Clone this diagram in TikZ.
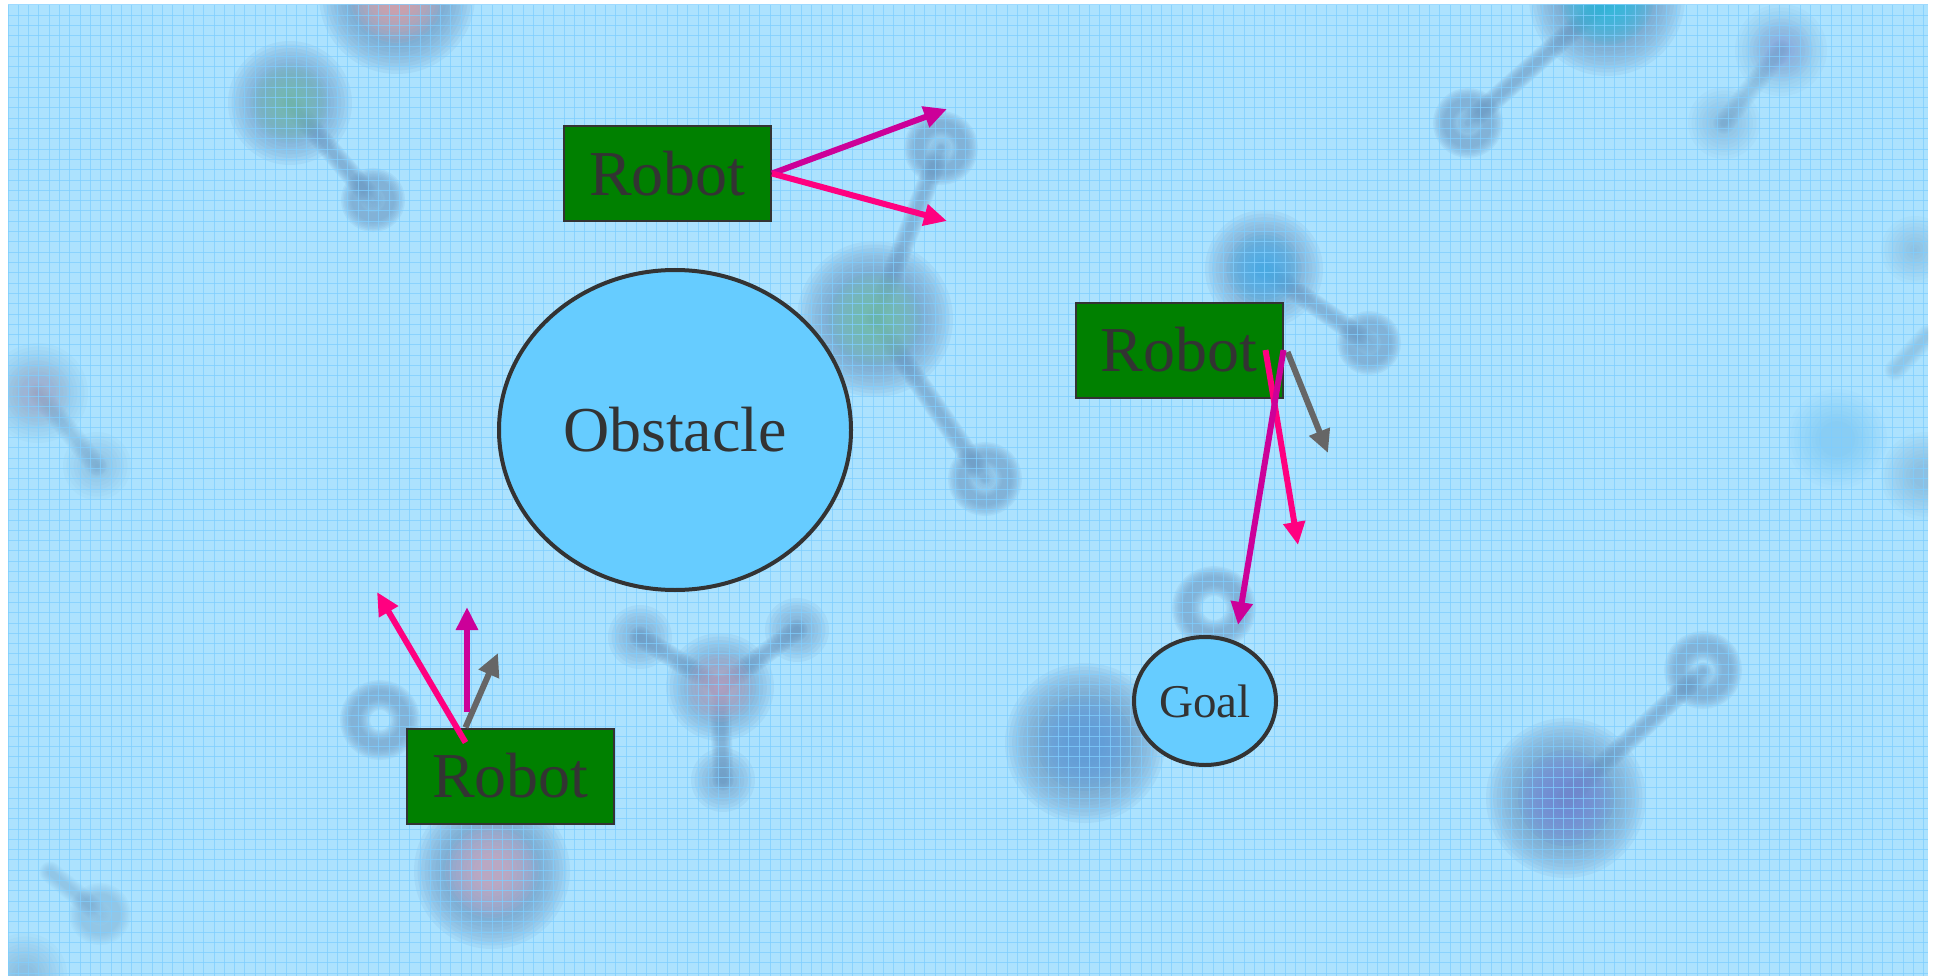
\documentclass[tikz,border=0pt]{standalone}
\usepackage{fontspec}
\setmainfont{Liberation Serif}
\usetikzlibrary{arrows.meta,calc,shapes.geometric}

\definecolor{paper}{HTML}{ACE2FE}
\definecolor{gridc}{HTML}{7FCEFF}
\definecolor{molshade}{HTML}{6A98C2}
\definecolor{lightblob}{HTML}{5FB8F0}
\definecolor{boxgreen}{HTML}{008000}
\definecolor{ink}{HTML}{333333}
\definecolor{skyfill}{HTML}{66CCFF}
\definecolor{hotpink}{HTML}{FF0080}
\definecolor{plum}{HTML}{CC0099}
\definecolor{steel}{HTML}{666666}

% soft-edged background shapes, built from stacked translucent layers
\def\lay{0.11}
\newcommand\haze[4]{% x, y, radius, colour
  \foreach \k in {0,...,9}{%
    \pgfmathsetmacro\rr{#3+16-32*\k/9}%
    \fill[#4,opacity=\lay] (#1,#2) circle[radius=\rr pt];
  }}
\newcommand\sphere[4]{% x, y, radius, centre colour (HTML)
  \haze{#1}{#2}{#3}{molshade}%
  \definecolor{tmpc}{HTML}{#4}%
  \haze{#1}{#2}{#3*0.5}{tmpc}}
\newcommand\hazering[3]{% x, y, radius
  \foreach \k in {0,...,7}{%
    \pgfmathsetmacro\ww{30-3*\k}%
    \draw[molshade,opacity=\lay,line width=\ww pt] (#1,#2) circle[radius=#3 pt];
  }}
\newcommand\hazebond[4]{% x1, y1, x2, y2
  \foreach \k in {0,...,7}{%
    \pgfmathsetmacro\ww{21-2.2*\k}%
    \draw[molshade,opacity=\lay,line width=\ww pt,line cap=round] (#1,#2) -- (#3,#4);
  }}

\tikzset{
  robot/.style={draw=ink,line width=2pt,fill=boxgreen,rectangle,
    minimum width=207pt,minimum height=95pt,inner sep=0pt,
    text=ink,font=\fontsize{64}{70}\selectfont},
  blob/.style={draw=ink,line width=4pt,fill=skyfill,ellipse,inner sep=0pt,text=ink},
  vec/.style={line width=6pt,-{Triangle[length=23pt,width=21pt]}},
}

\begin{document}
\begin{tikzpicture}[x=1pt,y=-1pt]
\useasboundingbox (0,0) rectangle (1937,976);
\fill[white] (0,0) rectangle (1937,976);

\begin{scope}
\clip (8,5) rectangle (1928,976);
\fill[paper] (8,5) rectangle (1928,976);

% molecules behind the scene
\hazebond{290}{103}{373}{200}
\sphere{397}{-4}{62}{F2A0A0}
\sphere{290}{103}{46}{74C2A6}
\hazering{373}{200}{17}

\hazebond{1607}{0}{1468}{123}
\sphere{1607}{-2}{62}{1EC0E2}
\hazering{1468}{123}{20}
\begin{scope}
\def\lay{0.055}
\hazebond{1781}{50}{1724}{123}
\sphere{1781}{50}{30}{8F9BE0}
\haze{1724}{123}{20}{molshade}
\end{scope}

\hazebond{875}{319}{941}{148}
\hazebond{875}{319}{985}{479}
\sphere{875}{319}{62}{72C6A6}
\hazering{941}{148}{22}
\hazering{985}{479}{22}

\hazebond{1264}{269}{1369}{343}
\sphere{1264}{269}{43}{3FB2F2}
\hazering{1369}{343}{17}

\hazering{1214}{608}{27}
\sphere{1085}{743}{64}{5A9AE0}

\hazebond{1566}{798}{1703}{672}
\sphere{1566}{798}{64}{6F82D6}
\hazering{1703}{670}{24}

\hazebond{720}{687}{640}{637}
\hazebond{720}{687}{797}{630}
\hazebond{720}{687}{723}{780}
\sphere{720}{687}{38}{D0A8C0}
\haze{640}{637}{16}{molshade}
\haze{797}{630}{16}{molshade}
\haze{723}{780}{16}{molshade}

\hazering{380}{720}{25}
\sphere{492}{871}{62}{D8A8C0}

\begin{scope}
\def\lay{0.05}
\hazebond{38}{393}{97}{466}
\sphere{38}{393}{34}{D0A0B8}
\haze{97}{466}{18}{molshade}
\hazebond{50}{872}{100}{914}
\hazering{100}{914}{16}
\haze{25}{975}{26}{molshade}
\haze{1837}{439}{34}{lightblob}
\haze{1925}{476}{28}{molshade}
\hazebond{1895}{370}{1928}{335}
\haze{1915}{250}{18}{molshade}
\end{scope}

% fine paper grid over the background
\foreach \i in {0,...,186}
  \draw[gridc,line width=1pt,opacity=0.75] ({8+10.3*\i},5) -- ({8+10.3*\i},976);
\foreach \j in {0,...,94}
  \draw[gridc,line width=1pt,opacity=0.75] (8,{5+10.3*\j}) -- (1928,{5+10.3*\j});
\end{scope}

% scene
\node[blob,minimum width=352pt,minimum height=320pt,font=\fontsize{64}{70}\selectfont]
  (obs) at (675,430) {Obstacle};
\node[blob,minimum width=142pt,minimum height=128pt,font=\fontsize{47}{52}\selectfont]
  (goal) at (1205,701) {Goal};

\node[robot] (r1) at (667.5,173.5) {Robot};
\node[robot] (r2) at (1179,350) {Robot};
\node[robot] (r3) at (510.5,776) {Robot};

% velocity vectors of the top robot
\coordinate (r1up) at (947,109);
\coordinate (r1dn) at (947,221);
\draw[vec,plum] (r1.east) -- (r1up);
\draw[vec,hotpink] (r1.east) -- (r1dn);

% velocity vectors of the right robot
\coordinate (r2g) at (1328,453);
\coordinate (r2p) at (1298,545);
\draw[vec,steel] ($(r2.east)+(4,2)$) -- (r2g);
\draw[vec,hotpink] ($(r2.east)+(-18,0)$) -- (r2p);
\draw[vec,plum] (r2.east) -- ($(goal.north)+(33,-10)$);

% velocity vectors of the bottom robot
\coordinate (r3g) at (498,653);
\coordinate (r3m) at (467,607);
\coordinate (r3p) at (377,592);
\draw[vec,steel] ($(r3.north)+(-45,0)$) -- (r3g);
\draw[vec,plum] ($(r3.north)+(-43.5,-16)$) -- (r3m);
\draw[vec,hotpink] ($(r3.north)+(-45,15)$) -- (r3p);
\end{tikzpicture}
\end{document}
